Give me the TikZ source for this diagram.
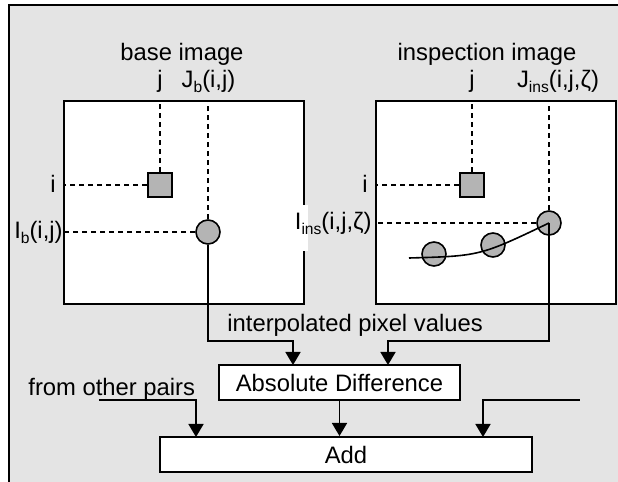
\documentclass[tikz,border=0pt]{standalone}
\usepackage{fontspec}
\setmainfont{Liberation Sans}
\usetikzlibrary{arrows.meta}
\definecolor{panelgray}{HTML}{E4E4E4}
\definecolor{pixgray}{HTML}{B4B4B4}
\newcommand{\lowsub}[1]{\raisebox{-2pt}{\fontsize{7.8}{9}\selectfont #1}}

\begin{document}
\begin{tikzpicture}[x=0.5pt,y=-0.5pt,
  font=\fontsize{11.9}{14}\selectfont,
  imgbox/.style={draw,fill=white,line width=1pt,minimum width=120pt,minimum height=101.5pt,inner sep=0pt},
  pix/.style={draw,fill=pixgray,line width=0.8pt,minimum size=12pt,inner sep=0pt},
  blockbox/.style={draw,fill=white,line width=1pt,minimum height=17.5pt,inner sep=0pt},
  guide/.style={line width=0.8pt,dash pattern=on 2.5pt off 2pt},
  flow/.style={line width=0.9pt,-{Triangle[length=6.5pt,width=7.5pt]}},
  lbl/.style={inner sep=0pt,anchor=base}]
\useasboundingbox (0,0) rectangle (618,482);
\clip (0,0) rectangle (618,482);
\draw[fill=panelgray,line width=1pt] (9,5) rectangle (640,500);

% the two images
\node[imgbox] (base) at (184,202.5) {};
\node[imgbox] (insp) at (496,202.5) {};
\node (basetitle) at (182,54) {base image};
\node (insptitle) at (487,54) {inspection image};

% base image: pixel and sample point
\node[pix] (bsq) at (160,185) {};
\node[pix,circle] (bpt) at (208,232) {};
\draw[guide] (bsq) -- (bsq |- base.north);
\draw[guide] (bsq) -- (bsq -| base.west);
\draw[guide] (bpt) -- (bpt |- base.north);
\draw[guide] (bpt) -- (bpt -| base.west);
\node[lbl] (bj) at (160,88) {j};
\node[lbl] (bJ) at (208.5,88) {J\lowsub{b}(i,j)};
\node[lbl,anchor=base east] (bi) at (56,192) {i};
\node[lbl,anchor=base east] (bI) at (63,239) {I\lowsub{b}(i,j)};

% inspection image: pixel and samples along the curve
\node[pix] (isq) at (472,185) {};
\node[pix,circle] (ipt) at (549,223) {};
\node[pix,circle] (ic1) at (434,254) {};
\node[pix,circle] (ic2) at (493,245) {};
\draw[guide] (isq) -- (isq |- insp.north);
\draw[guide] (isq) -- (isq -| insp.west);
\draw[guide] (ipt) -- (ipt |- insp.north);
\draw[guide] (ipt) -- (ipt -| insp.west);
\coordinate (cstart) at (409,258);
\draw[line width=0.8pt] (cstart) .. controls (480,256) .. (ipt.center);
\node[lbl] (ij) at (472,88) {j};
\node[lbl] (iJ) at (558,88) {J\lowsub{ins}(i,j,ζ)};
\node[lbl,anchor=base east] (ii) at (368,192) {i};
\fill[white] (290,205) rectangle (308,251);
\node[lbl,anchor=base east] (iI) at (372,230) {I\lowsub{ins}(i,j,ζ)};

% interpolated values into the difference
\node[blockbox,minimum width=120.5pt] (absdiff) at (339.5,382.5) {Absolute Difference};
\node[blockbox,minimum width=186pt] (add) at (346,454.5) {Add};
\node[lbl,anchor=base west] (interp) at (227,332) {interpolated pixel values};
\coordinate (bendL) at (293,341);
\coordinate (inL) at (293,365);
\coordinate (bendR) at (388,341);
\coordinate (inR) at (388,365);
\draw[flow] (bpt.south) |- (bendL) -- (inL);
\draw[flow] (ipt.center) |- (bendR) -- (inR);

% sum over all pairs
\node[lbl,anchor=base west] (other) at (28,396) {from other pairs};
\coordinate (othL) at (99,400);
\coordinate (inA) at (196,437);
\coordinate (othR) at (580,400);
\coordinate (inC) at (483,437);
\draw[flow] (othL) -| (inA);
\draw[flow] (absdiff.south) -- (absdiff.south |- add.north);
\draw[flow] (othR) -| (inC);
\end{tikzpicture}
\end{document}
